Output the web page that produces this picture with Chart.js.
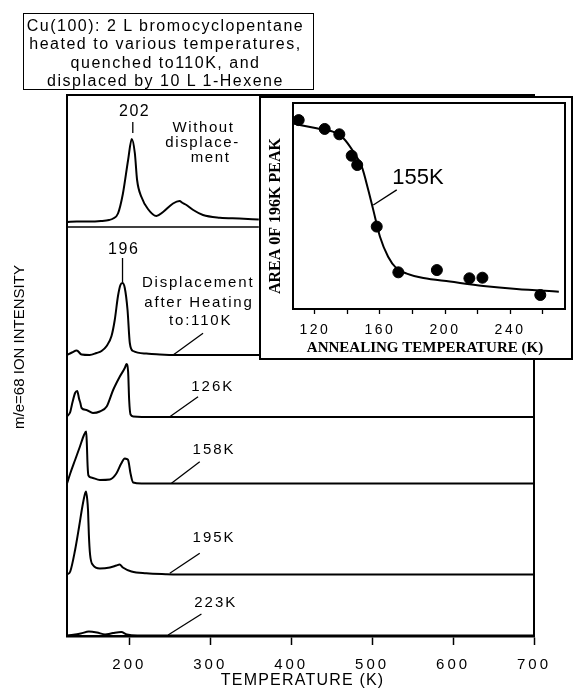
<!DOCTYPE html>
<html><head><meta charset="utf-8">
<script src="https://cdn.jsdelivr.net/npm/chart.js@4.4.1/dist/chart.umd.min.js"></script>
<style>
html,body{margin:0;padding:0;background:#fff;}
#wrap{position:relative;width:573px;height:691px;overflow:hidden;background:#fff;}
#main{position:absolute;left:0;top:0;}
#insetWrap{position:absolute;left:259px;top:96px;width:314px;height:264px;}
#titleBox{position:absolute;left:23px;top:13px;width:291px;height:77px;box-sizing:border-box;border:1.5px solid #000;
 font:16px Arial,"Liberation Sans",Helvetica,sans-serif;letter-spacing:1.5px;line-height:18.3px;text-align:center;color:#000;padding:3px 6px 0 0;}
</style></head>
<body>
<div id="wrap">
<canvas id="main" width="573" height="691"></canvas>
<div id="titleBox">Cu(100): 2 L bromocyclopentane<br>heated to various temperatures,<br>quenched to110K, and<br>displaced by 10 L 1-Hexene</div>
<div id="insetWrap"><canvas id="inset" width="314" height="264"></canvas></div>
</div>
<script>
// ---------- DATA: main TPD spectra (temperature K, intensity above own baseline, arb.) ----------
const T_WITHOUT = [123,135,150,165,175,180,186,192,198.5,203,206.8,209.6,215,223,233.5,241.7,254,262,266,270.6,279,291,312,336,360];
const I_WITHOUT = [0,0.5,0.5,1,2,3.5,8.5,28,62,83,69,42,25,13,6,10,18.5,21,19,17,12,7,4.3,3.5,2.5];
const T_110 = [123,129,135,141,151,159.5,165.7,172,178,182,186,189,191.5,194.4,197.8,200.6,204.7,221,237.7,260,700];
const I_110 = [0,2.5,4.5,0.5,0,2,4,9,19,35,59,70,72,67,45,12,4,1.5,0.5,0,0];
const T_126 = [123,127,129,133,135.6,138,139.5,141,147,155,163.6,172,180,188.3,194.4,196.5,198.5,199.8,201.5,205,230,700];
const I_126 = [0.5,5,12,24,26,18,14,9,7,4,5.5,10.5,27,40.5,49,53,45.5,17,2.5,0.5,0,0];
const T_158 = [123,127,133,139,144,146.7,147.5,148.5,149.5,153,163.6,176,184,190,194.4,196.5,198.5,201.5,204.7,215,700];
const I_158 = [0,10,23.5,37,48.5,52,40,17,8,6,3.5,4,10,20,25,24.5,23.5,10,1,0,0];
const T_195 = [123,127,133,138,142,145,146.5,148,149,150,151.5,155,163.6,176,184,188,192,202.7,221,245,260,700];
const I_195 = [0,3,24.5,48,68,80,83,75,64,40,20,9.5,6,7,9,10,7,3,1.2,0.3,0,0];
const T_223 = [123,140,150,160,170,180,190,197,210,700];
const I_223 = [0,2,4,3,1,2.5,3.5,1,0,0];
const SPECTRUM_NAMES = ['Without displacement','110K','126K','158K','195K','223K'];
const SPECTRUM_OFFSETS = [414,281,219,152.5,61.5,0.5];
const MAIN_TICKS = [200,300,400,500,600,700];

// ---------- DATA: inset ----------
const ANNEAL_T = [110,126,135,142.6,146,158,171.3,195,215,223,258.6];
const AREA_196 = [0.917,0.874,0.848,0.744,0.699,0.40,0.178,0.189,0.149,0.152,0.068];
const FIT_T = [106.7,121,131,137.5,143.6,148.8,152.8,155.9,160,165,170.3,176.5,186.7,203,223.6,244,270];
const FIT_AREA = [0.90,0.877,0.861,0.829,0.764,0.691,0.578,0.48,0.351,0.254,0.196,0.172,0.150,0.133,0.112,0.097,0.084];
const INSET_TICKS = [120,140,160,180,200,220,240,260];
const INSET_LABELS = [120,160,200,240];

const SANS = 'Arial, "Liberation Sans", Helvetica, sans-serif';
const SERIF = '"Liberation Serif", "Times New Roman", Times, serif';

function txt(ctx, s, x, y, font, sp, rot) {
  ctx.save();
  ctx.font = font;
  ctx.letterSpacing = (sp || 0) + 'px';
  ctx.textAlign = 'center';
  ctx.textBaseline = 'middle';
  ctx.fillStyle = '#000';
  ctx.translate(x, y);
  if (rot) ctx.rotate(rot);
  ctx.fillText(s, (sp || 0) / 2, 0);
  ctx.restore();
}
function seg(ctx, x1, y1, x2, y2, w) {
  ctx.save(); ctx.strokeStyle = '#000'; ctx.lineWidth = w || 1.3;
  ctx.beginPath(); ctx.moveTo(x1, y1); ctx.lineTo(x2, y2); ctx.stroke(); ctx.restore();
}

const tickSpacing = {
  id: 'tickSpacing',
  beforeDraw(chart, args, opts) {
    for (const id in chart.scales) {
      const s = chart.scales[id];
      if (!s._spPatched) {
        const orig = s.drawLabels;
        s.drawLabels = function (area) {
          const c = this.ctx; c.save(); c.letterSpacing = (opts.px || 0) + 'px';
          orig.call(this, area); c.restore();
        };
        s._spPatched = true;
      }
    }
  }
};

// ---------- main chart ----------
const SERIES = [[T_WITHOUT,I_WITHOUT],[T_110,I_110],[T_126,I_126],[T_158,I_158],[T_195,I_195],[T_223,I_223]];
const mainDatasets = SERIES.map((s, k) => ({
  label: SPECTRUM_NAMES[k],
  data: s[0].map((t, i) => ({x: t, y: SPECTRUM_OFFSETS[k] + s[1][i]})),
  borderColor: '#000', borderWidth: 2, pointRadius: 0, fill: false,
  cubicInterpolationMode: 'monotone'
}));
// separator between top panel and the stacked panels
mainDatasets.push({label: 'sep', data: [{x: 123, y: 409}, {x: 360, y: 409}],
  borderColor: '#000', borderWidth: 1.6, pointRadius: 0});

const MAIN_NOTES = [
  ['202', 205.6, 524, 16, 1.5],
  ['Without', 290.7, 508, 15, 1.6],
  ['displace-', 289.5, 493, 15, 1.6],
  ['ment', 299.4, 478, 15, 1.6],
  ['196', 192.1, 386, 16, 1.5],
  ['Displacement', 283.9, 352.7, 15, 1.8],
  ['after Heating', 284.9, 333.5, 15, 1.8],
  ['to:110K', 287, 315, 15, 1.8],
  ['126K', 301.9, 249.3, 15, 2],
  ['158K', 303.5, 186, 15, 2],
  ['195K', 303.5, 97.7, 15, 2],
  ['223K', 305.6, 32.7, 15, 2]
];
const MAIN_LEADERS = [
  [204.3, 514, 204.3, 503],
  [191.6, 378, 191.6, 354],
  [291.1, 302.7, 254.1, 281],
  [284.9, 239.3, 250, 219.3],
  [287, 174.3, 252.1, 152.7],
  [287, 82.7, 250, 62.7],
  [289.1, 22, 247.9, 1]
];

const mainDecor = {
  id: 'mainDecor',
  afterDraw(chart) {
    const {ctx, chartArea: a, scales: {x, y}} = chart;
    ctx.save(); ctx.strokeStyle = '#000'; ctx.lineWidth = 2;
    ctx.strokeRect(a.left, a.top, a.right - a.left, a.bottom - a.top);
    ctx.restore();
    MAIN_NOTES.forEach(n => txt(ctx, n[0], x.getPixelForValue(n[1]), y.getPixelForValue(n[2]), n[3] + 'px ' + SANS, n[4]));
    MAIN_LEADERS.forEach(l => seg(ctx, x.getPixelForValue(l[0]), y.getPixelForValue(l[1]), x.getPixelForValue(l[2]), y.getPixelForValue(l[3]), 1.3));
    txt(ctx, 'TEMPERATURE (K)', 302, 681, '16px ' + SANS, 1.2);
    txt(ctx, 'm/e=68 ION INTENSITY', 20, 347, '15px ' + SANS, 0, -Math.PI / 2);
  }
};

new Chart(document.getElementById('main'), {
  type: 'line',
  data: {datasets: mainDatasets},
  options: {
    responsive: false, animation: false, events: [],
    layout: {padding: {top: 95, right: 39, bottom: 0, left: 0}},
    plugins: {legend: {display: false}, tooltip: {enabled: false}, tickSpacing: {px: 3}},
    scales: {
      x: {type: 'linear', min: 123, max: 700, position: 'bottom',
        afterBuildTicks: s => { s.ticks = MAIN_TICKS.map(v => ({value: v})); },
        afterFit: s => { s.height = 55; },
        grid: {display: true, drawOnChartArea: false, drawTicks: true, tickLength: 9, tickWidth: 1.5, tickColor: '#000'},
        border: {display: true, color: '#000', width: 2.5},
        ticks: {color: '#000', font: {family: SANS, size: 15}, padding: 11, maxRotation: 0, autoSkip: false}
      },
      y: {type: 'linear', min: 0, max: 541,
        afterFit: s => { s.width = 67; },
        ticks: {display: false}, grid: {display: false},
        border: {display: true, color: '#000', width: 2}
      }
    }
  },
  plugins: [tickSpacing, mainDecor]
});

// ---------- inset chart ----------
const insetDecor = {
  id: 'insetDecor',
  beforeDraw(chart) {
    const {ctx, width, height} = chart;
    ctx.save(); ctx.fillStyle = '#fff'; ctx.fillRect(0, 0, width, height);
    ctx.strokeStyle = '#000'; ctx.lineWidth = 2; ctx.strokeRect(1, 1, width - 2, height - 2);
    ctx.restore();
  },
  afterDraw(chart) {
    const {ctx, chartArea: a, scales: {x, y}} = chart;
    ctx.save(); ctx.strokeStyle = '#000'; ctx.lineWidth = 2;
    ctx.strokeRect(a.left, a.top, a.right - a.left, a.bottom - a.top);
    ctx.restore();
    txt(ctx, '155K', x.getPixelForValue(183.4), y.getPixelForValue(0.636), '22px ' + SANS, 0);
    seg(ctx, x.getPixelForValue(170.3), y.getPixelForValue(0.578), x.getPixelForValue(155.9), y.getPixelForValue(0.505), 1.4);
    txt(ctx, 'ANNEALING TEMPERATURE (K)', 166, 252, 'bold 15px ' + SERIF, 0);
    txt(ctx, 'AREA 0F 196K PEAK', 17, 120, 'bold 16px ' + SERIF, 0, -Math.PI / 2);
  }
};

new Chart(document.getElementById('inset'), {
  data: {datasets: [
    {type: 'scatter', label: 'Area of 196K peak', data: ANNEAL_T.map((t, i) => ({x: t, y: AREA_196[i]})),
      pointRadius: 5.5, pointBackgroundColor: '#000', pointBorderColor: '#000', showLine: false},
    {type: 'line', label: 'fit', data: FIT_T.map((t, i) => ({x: t, y: FIT_AREA[i]})),
      borderColor: '#000', borderWidth: 2, pointRadius: 0, cubicInterpolationMode: 'monotone'}
  ]},
  options: {
    responsive: false, animation: false, events: [],
    layout: {padding: {top: 7, right: 8, bottom: 0, left: 0}},
    plugins: {legend: {display: false}, tooltip: {enabled: false}, tickSpacing: {px: 2.5}},
    scales: {
      x: {type: 'linear', min: 106.5, max: 273.8, position: 'bottom',
        afterBuildTicks: s => { s.ticks = INSET_TICKS.map(v => ({value: v})); },
        afterFit: s => { s.height = 51; },
        grid: {display: true, drawOnChartArea: false, drawTicks: true, tickLength: 5, tickWidth: 1.3, tickColor: '#000'},
        border: {display: true, color: '#000', width: 2},
        ticks: {color: '#000', font: {family: SANS, size: 14}, padding: 8, maxRotation: 0, autoSkip: false,
          callback: v => INSET_LABELS.includes(v) ? String(v) : ''}
      },
      y: {type: 'linear', min: 0, max: 1,
        afterFit: s => { s.width = 34; },
        ticks: {display: false}, grid: {display: false},
        border: {display: true, color: '#000', width: 2}
      }
    }
  },
  plugins: [tickSpacing, insetDecor]
});
</script>
</body></html>
